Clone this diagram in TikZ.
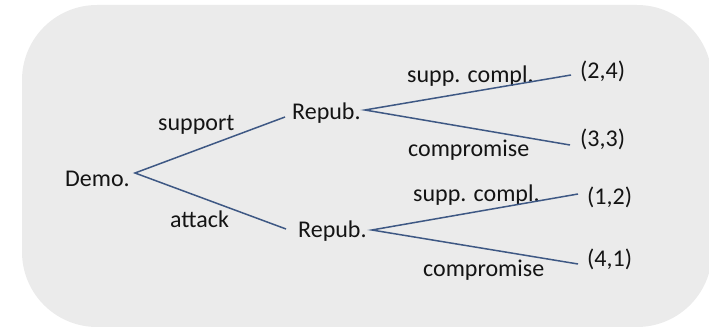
\documentclass[tikz,border=0pt]{standalone}
\usepackage{fontspec}
\setmainfont{Carlito}
\definecolor{bgc}{RGB}{235,235,235}
\definecolor{edgec}{RGB}{62,88,132}
\definecolor{txtc}{RGB}{20,20,20}
\begin{document}
\begin{tikzpicture}[x=1pt,y=-1pt,
  lbl/.style={anchor=base west,inner sep=0pt,text=txtc,font=\fontsize{24}{28}\selectfont},
  edge/.style={draw=edgec,line width=1.5pt}]
\useasboundingbox (0,0) rectangle (709,328);
\fill[bgc,rounded corners=75pt] (22,5) rectangle (712,327);
% nodes
\node[lbl] (demo) at (65,187) {Demo.};
\node[lbl] (repA) at (292,120) {Repub.};
\node[lbl] (repB) at (298,238) {Repub.};
\node[lbl] (l24) at (580,79) {(2,4)};
\node[lbl] (l33) at (580,147) {(3,3)};
\node[lbl] (l12) at (587,205) {(1,2)};
\node[lbl] (l41) at (587,267) {(4,1)};
% edge labels
\node[lbl] (support) at (158,131) {support};
\node[lbl] (attack) at (170,228) {attack};
\node[lbl] (scA) at (407,83) {supp. compl.};
\node[lbl] (cpA) at (408,157) {compromise};
\node[lbl] (scB) at (413,202) {supp. compl.};
\node[lbl] (cpB) at (423,277) {compromise};
% connectors
\draw[edge] ([shift={(-7,-3)}]repA.base west) -- ([shift={(5,-14)}]demo.base east) -- ([shift={(-12,-9)}]repB.base west);
\draw[edge] ([shift={(-9,-4)}]l24.base west) -- ([shift={(4,-10)}]repA.base east) -- ([shift={(-10,-2)}]l33.base west);
\draw[edge] ([shift={(-9,-11)}]l12.base west) -- ([shift={(5,-8)}]repB.base east) -- ([shift={(-9,-3)}]l41.base west);
\end{tikzpicture}
\end{document}
